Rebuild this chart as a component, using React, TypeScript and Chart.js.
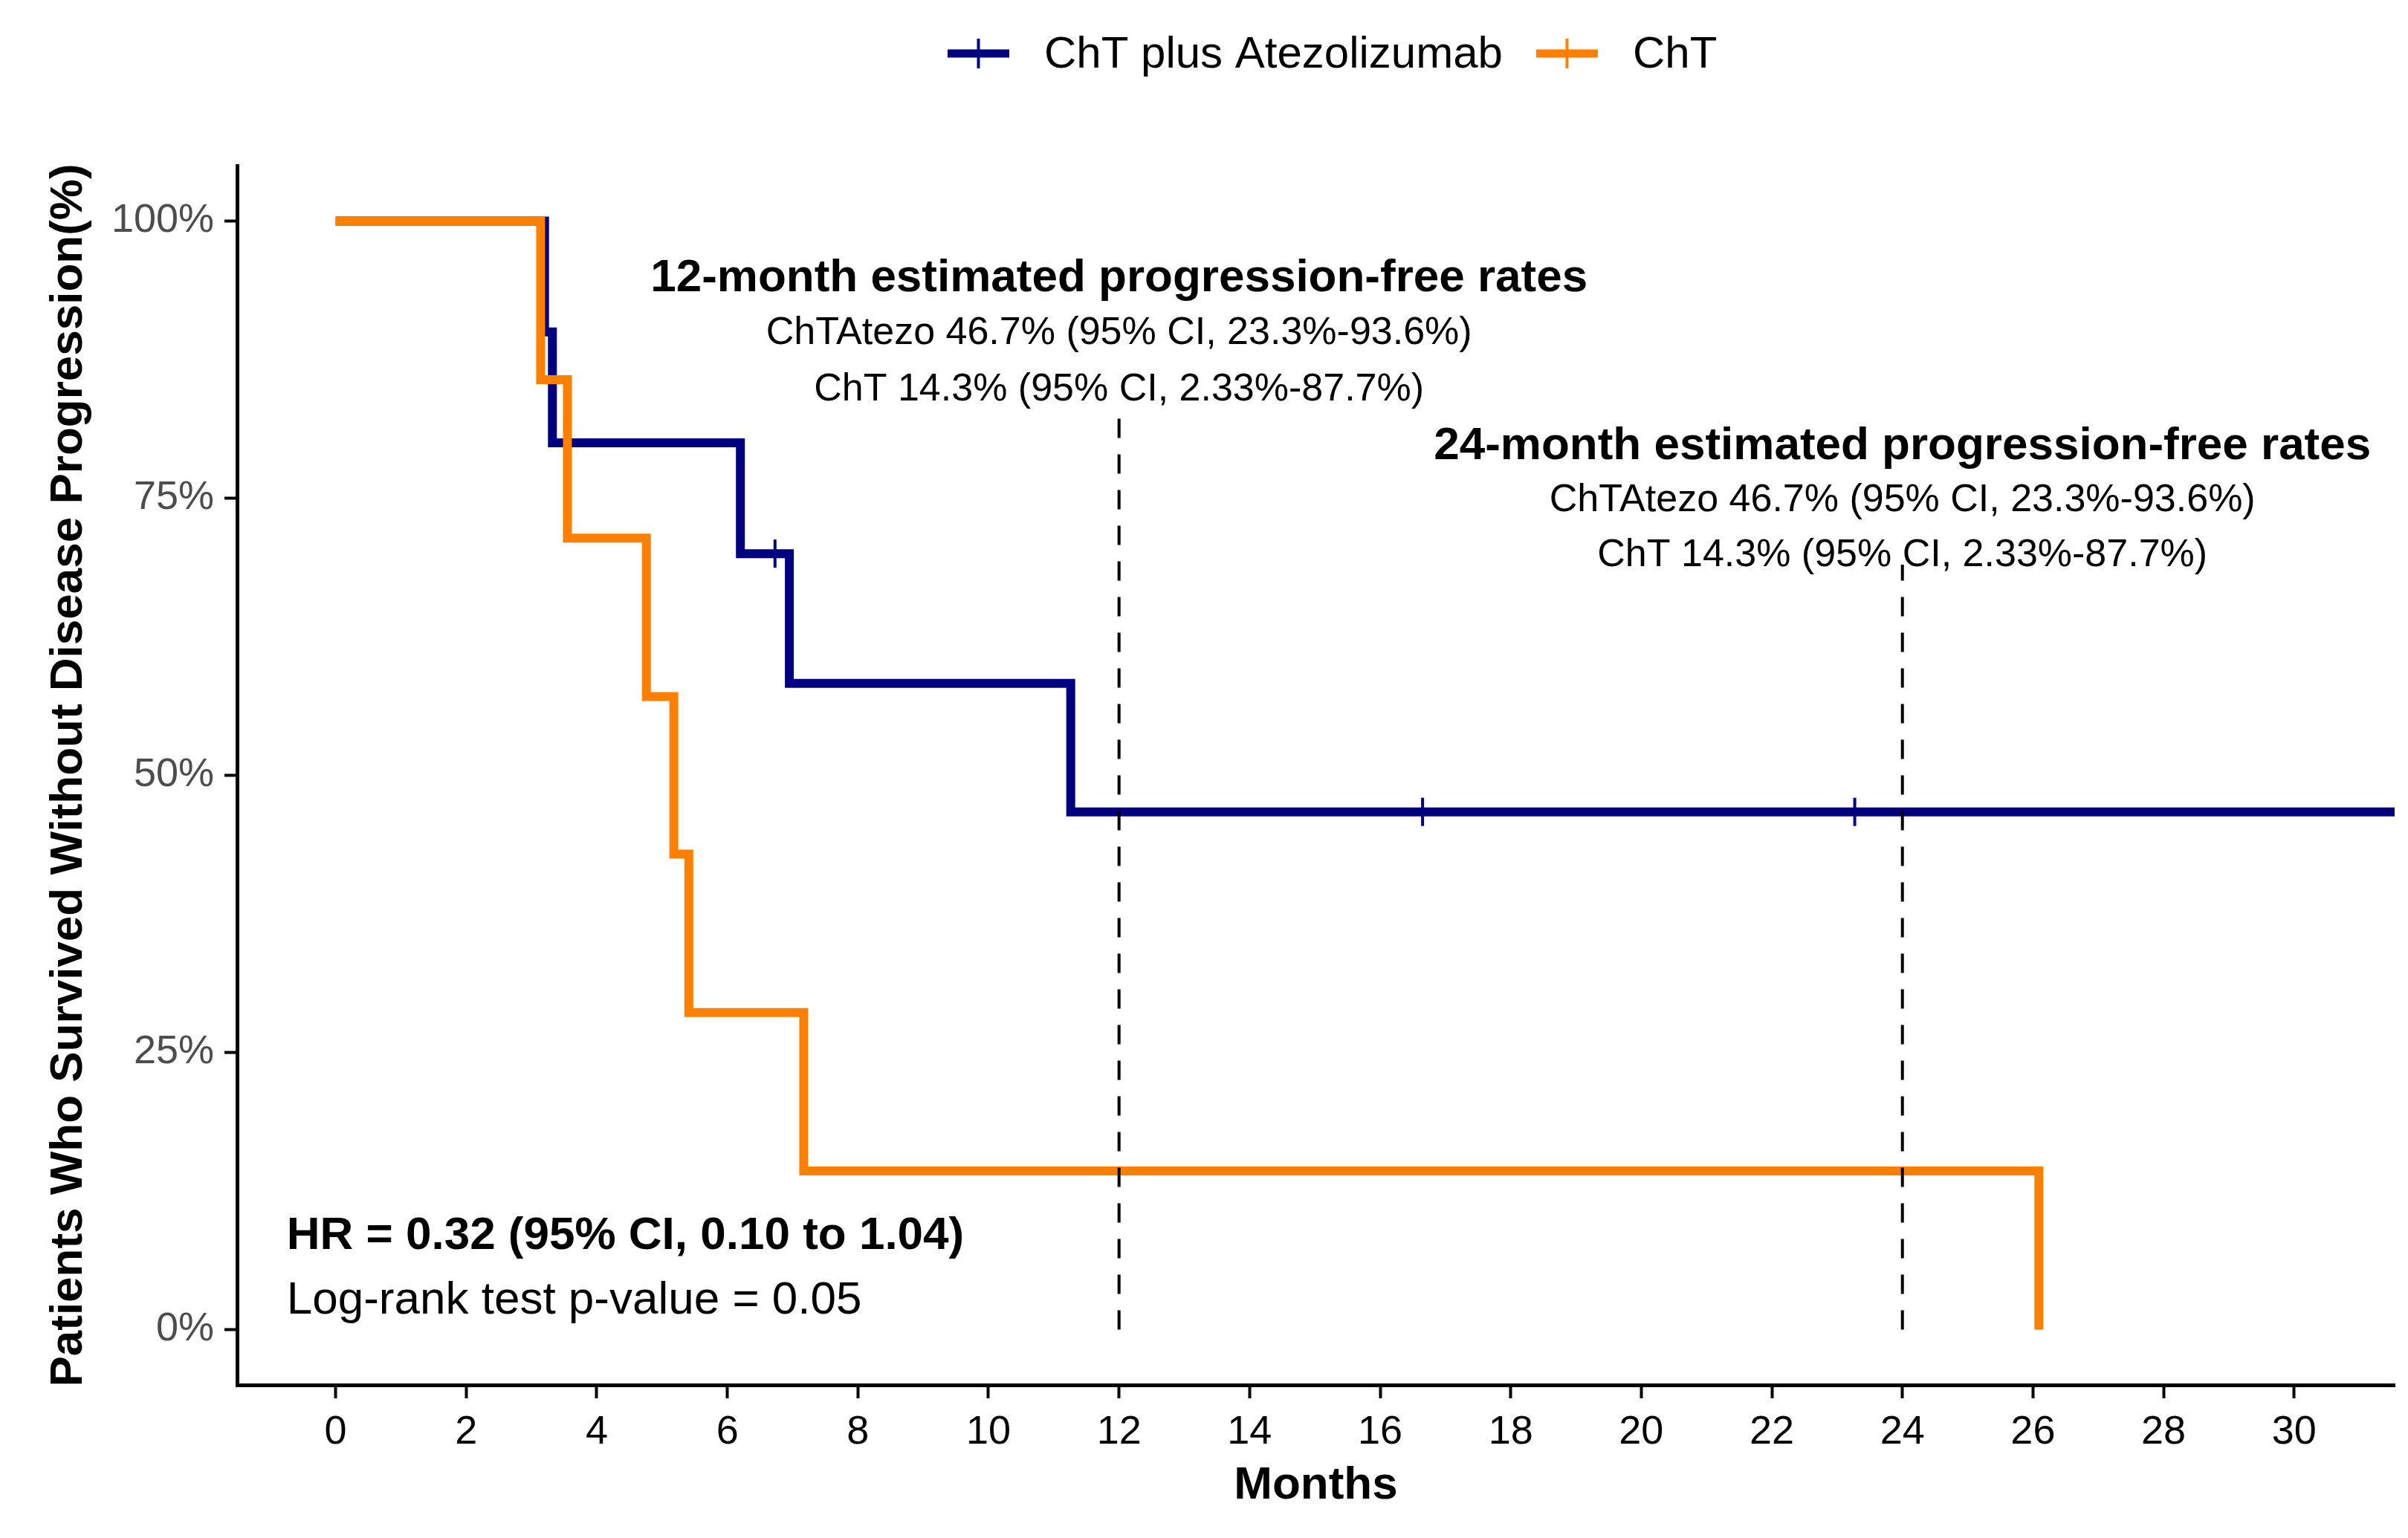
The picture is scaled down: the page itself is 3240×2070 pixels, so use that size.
import React, { useEffect, useRef } from 'react';
import { Chart, registerables } from 'chart.js';

Chart.register(...registerables);

const FONT = '"Liberation Sans", Arial, Helvetica, sans-serif';

// Kaplan-Meier steps (months at which the value changes, value after the change)
const atezoMonths = [0, 3.2, 3.32, 6.2, 6.95, 11.26, 31.54];
const atezoSurvival = [100, 90, 80, 70, 58.3, 46.7, 46.7];
const chtMonths = [0, 3.14, 3.55, 4.76, 5.18, 5.41, 7.17, 26.09];
const chtSurvival = [100, 85.7, 71.4, 57.1, 42.9, 28.6, 14.3, 0];

// censor marks
const atezoCensorMonths = [6.73, 16.65, 23.27];
const atezoCensorSurvival = [70, 46.7, 46.7];

// landmark dashed lines
const landmarkMonths = [12, 24];
const landmarkTops = [83, 69];

// axis ranges / ticks
const xRange = [-1.51, 31.54];
const yRange = [-5, 105];
const xStep = 2;
const yStep = 25;

const seriesNames = ['ChT plus Atezolizumab', 'ChT'];
const seriesColors = ['#000080', '#FF8000'];

// annotation texts
const annotationTexts = [
  '12-month estimated progression-free rates',
  'ChTAtezo 46.7% (95% CI, 23.3%-93.6%)',
  'ChT 14.3% (95% CI, 2.33%-87.7%)',
  '24-month estimated progression-free rates',
  'ChTAtezo 46.7% (95% CI, 23.3%-93.6%)',
  'ChT 14.3% (95% CI, 2.33%-87.7%)',
  'HR = 0.32 (95% CI, 0.10 to 1.04)',
  'Log-rank test p-value = 0.05',
];
const annotationMonths = [12, 12, 12, 24, 24, 24, -0.75, -0.75];
const annotationPercents = [94.8, 89.9, 84.8, 79.7, 74.8, 69.8, 8.4, 2.6];
const annotationBold = [true, false, false, true, false, false, true, false];
const annotationSizes = [62, 52, 52, 62, 52, 52, 62, 62];
const annotationAligns = ['center', 'center', 'center', 'center', 'center', 'center', 'left', 'left'];

const toPoints = (xs: number[], ys: number[]) => xs.map((x, i) => ({ x, y: ys[i] }));

const overlayPlugin = {
  id: 'overlay',
  afterDraw(chart: any) {
    const { ctx } = chart;
    const xs = chart.scales.x;
    const ys = chart.scales.y;
    ctx.save();
    ctx.fillStyle = '#000';
    ctx.textBaseline = 'middle';
    annotationTexts.forEach((t, i) => {
      ctx.font = `${annotationBold[i] ? 'bold ' : ''}${annotationSizes[i]}px ${FONT}`;
      ctx.textAlign = annotationAligns[i] as CanvasTextAlign;
      ctx.fillText(t, xs.getPixelForValue(annotationMonths[i]), ys.getPixelForValue(annotationPercents[i]));
    });

    // legend
    const ly = 72;
    let lx = 1275;
    ctx.font = `60px ${FONT}`;
    ctx.textAlign = 'left';
    seriesNames.forEach((name, i) => {
      ctx.strokeStyle = seriesColors[i];
      ctx.lineWidth = 11;
      ctx.lineCap = 'butt';
      ctx.beginPath();
      ctx.moveTo(lx, ly);
      ctx.lineTo(lx + 83, ly);
      ctx.stroke();
      ctx.lineWidth = 4;
      ctx.beginPath();
      ctx.moveTo(lx + 41.5, ly - 20);
      ctx.lineTo(lx + 41.5, ly + 20);
      ctx.stroke();
      ctx.fillStyle = '#000';
      ctx.fillText(name, lx + 130, ly + 2);
      lx += 130 + ctx.measureText(name).width + 45;
    });
    ctx.restore();
  },
};

export default function App() {
  const ref = useRef<HTMLCanvasElement | null>(null);

  useEffect(() => {
    if (!ref.current) return;
    const dashed = landmarkMonths.map((m, i) => ({
      type: 'line' as const,
      data: [{ x: m, y: 0 }, { x: m, y: landmarkTops[i] }],
      borderColor: '#000',
      borderWidth: 4,
      borderDash: [26, 22],
      pointRadius: 0,
      fill: false,
    }));
    const chart = new Chart(ref.current, {
      type: 'line',
      data: {
        datasets: [
          ...dashed,
          {
            type: 'scatter' as any,
            data: toPoints(atezoCensorMonths, atezoCensorSurvival),
            pointStyle: 'line',
            rotation: 90,
            radius: 19,
            borderWidth: 4,
            borderColor: seriesColors[0],
            backgroundColor: seriesColors[0],
            showLine: false,
          } as any,
          {
            label: seriesNames[1],
            data: toPoints(chtMonths, chtSurvival),
            borderColor: seriesColors[1],
            borderWidth: 12,
            stepped: 'before',
            pointRadius: 0,
            fill: false,
            borderJoinStyle: 'miter',
          },
          {
            label: seriesNames[0],
            data: toPoints(atezoMonths, atezoSurvival),
            borderColor: seriesColors[0],
            borderWidth: 12,
            stepped: 'before',
            pointRadius: 0,
            fill: false,
            borderJoinStyle: 'miter',
          },
        ] as any,
      },
      options: {
        animation: false,
        responsive: false,
        devicePixelRatio: 1,
        layout: { autoPadding: false, padding: { top: 223, right: 18, bottom: 0, left: 0 } },
        plugins: { legend: { display: false }, tooltip: { enabled: false } },
        scales: {
          x: {
            type: 'linear',
            min: xRange[0],
            max: xRange[1],
            afterFit: (s: any) => { s.height = 206; s.paddingLeft = 0; s.paddingRight = 0; },
            ticks: {
              stepSize: xStep,
              includeBounds: false,
              autoSkip: false,
              maxRotation: 0,
              color: '#000',
              font: { size: 54, family: FONT },
              padding: 14,
            },
            grid: { drawOnChartArea: false, drawTicks: true, tickLength: 18, tickWidth: 4, tickColor: '#000' },
            border: { display: true, color: '#000', width: 5 },
            title: {
              display: true,
              text: 'Months',
              color: '#000',
              font: { size: 62, weight: 'bold', family: FONT },
              padding: { top: 0, bottom: 33 },
            },
          },
          y: {
            type: 'linear',
            min: yRange[0],
            max: yRange[1],
            afterFit: (s: any) => { s.width = 319; s.paddingTop = 0; s.paddingBottom = 0; },
            ticks: {
              stepSize: yStep,
              includeBounds: false,
              color: '#4D4D4D',
              font: { size: 54, family: FONT },
              padding: 14,
              callback: (v: any) => `${v}%`,
            },
            grid: { drawOnChartArea: false, drawTicks: true, tickLength: 17, tickWidth: 4, tickColor: '#000' },
            border: { display: true, color: '#000', width: 5 },
            title: {
              display: true,
              text: 'Patients Who Survived Without Disease Progression(%)',
              color: '#000',
              font: { size: 62, weight: 'bold', family: FONT },
              padding: { top: 56, bottom: 0 },
            },
          },
        },
      } as any,
      plugins: [overlayPlugin],
    });
    return () => chart.destroy();
  }, []);

  return (
    <div style={{ position: 'absolute', left: 0, top: 0, width: 3240, height: 2070, background: '#fff' }}>
      <canvas ref={ref} width={3240} height={2070} style={{ display: 'block' }} />
    </div>
  );
}
